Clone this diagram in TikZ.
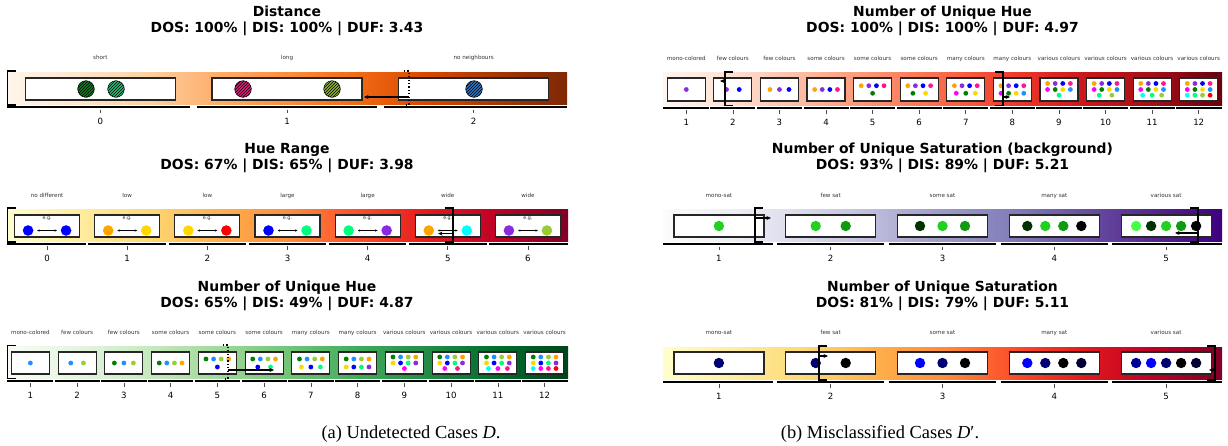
\documentclass[tikz,border=0pt]{standalone}
\usepackage{fontspec}
\setmainfont{DejaVu Sans}
\newfontfamily\capfont{Liberation Serif}
\usetikzlibrary{arrows.meta,patterns}

% ---- colour maps (9 stops each) ----
\definecolor{cmOra}{HTML}{FFF5EB}\definecolor{cmOrb}{HTML}{FEE6CE}\definecolor{cmOrc}{HTML}{FDD0A2}
\definecolor{cmOrd}{HTML}{FDAE6B}\definecolor{cmOre}{HTML}{FD8D3C}\definecolor{cmOrf}{HTML}{F16913}
\definecolor{cmOrg}{HTML}{D94801}\definecolor{cmOrh}{HTML}{A63603}\definecolor{cmOri}{HTML}{7F2704}
\definecolor{cmYRa}{HTML}{FFFFCC}\definecolor{cmYRb}{HTML}{FFEDA0}\definecolor{cmYRc}{HTML}{FED976}
\definecolor{cmYRd}{HTML}{FEB24C}\definecolor{cmYRe}{HTML}{FD8D3C}\definecolor{cmYRf}{HTML}{FC4E2A}
\definecolor{cmYRg}{HTML}{E31A1C}\definecolor{cmYRh}{HTML}{BD0026}\definecolor{cmYRi}{HTML}{800026}
\definecolor{cmGna}{HTML}{F7FCF5}\definecolor{cmGnb}{HTML}{E5F5E0}\definecolor{cmGnc}{HTML}{C7E9C0}
\definecolor{cmGnd}{HTML}{A1D99B}\definecolor{cmGne}{HTML}{74C476}\definecolor{cmGnf}{HTML}{41AB5D}
\definecolor{cmGng}{HTML}{238B45}\definecolor{cmGnh}{HTML}{006D2C}\definecolor{cmGni}{HTML}{00441B}
\definecolor{cmRda}{HTML}{FFF5F0}\definecolor{cmRdb}{HTML}{FEE0D2}\definecolor{cmRdc}{HTML}{FCBBA1}
\definecolor{cmRdd}{HTML}{FC9272}\definecolor{cmRde}{HTML}{FB6A4A}\definecolor{cmRdf}{HTML}{EF3B2C}
\definecolor{cmRdg}{HTML}{CB181D}\definecolor{cmRdh}{HTML}{A50F15}\definecolor{cmRdi}{HTML}{67000D}
\definecolor{cmPua}{HTML}{FCFBFD}\definecolor{cmPub}{HTML}{EFEDF5}\definecolor{cmPuc}{HTML}{DADAEB}
\definecolor{cmPud}{HTML}{BCBDDC}\definecolor{cmPue}{HTML}{9E9AC8}\definecolor{cmPuf}{HTML}{807DBA}
\definecolor{cmPug}{HTML}{6A51A3}\definecolor{cmPuh}{HTML}{54278F}\definecolor{cmPui}{HTML}{3F007D}
\newcommand\defcmap[1]{%
  \pgfdeclarehorizontalshading{#1}{100bp}{color(0bp)=(#1a); color(25bp)=(#1a);
    color(31.25bp)=(#1b); color(37.5bp)=(#1c); color(43.75bp)=(#1d); color(50bp)=(#1e);
    color(56.25bp)=(#1f); color(62.5bp)=(#1g); color(68.75bp)=(#1h); color(75bp)=(#1i);
    color(100bp)=(#1i)}}
\defcmap{cmOr}\defcmap{cmYR}\defcmap{cmGn}\defcmap{cmRd}\defcmap{cmPu}

% ---- marker colours ----
\definecolor{cBlue}{HTML}{0000FF}\definecolor{cOrange}{HTML}{FFA500}\definecolor{cGold}{HTML}{FFD700}
\definecolor{cRed}{HTML}{FF0000}\definecolor{cSpring}{HTML}{00FF7F}\definecolor{cViolet}{HTML}{8A2BE2}
\definecolor{cCyan}{HTML}{00FFFF}\definecolor{cYgreen}{HTML}{9ACD32}\definecolor{cGreen}{HTML}{008000}
\definecolor{cDodger}{HTML}{1E90FF}\definecolor{cMagenta}{HTML}{FF00FF}\definecolor{cPink}{HTML}{FF1493}
\definecolor{sLime}{HTML}{22D022}\definecolor{sMid}{HTML}{109A10}\definecolor{sDark}{HTML}{003300}
\definecolor{sBright}{HTML}{44FF44}\definecolor{nNavy}{HTML}{000070}\definecolor{nDeep}{HTML}{000099}
\definecolor{nDark}{HTML}{000033}
\definecolor{hGreenA}{HTML}{137A22}\definecolor{hGreenB}{HTML}{2DB878}\definecolor{hMag}{HTML}{D81C7A}
\definecolor{hOlive}{HTML}{8CB034}\definecolor{hBlue}{HTML}{2A76C4}

% axis under a strip: segments, ticks and numbers
\newcommand\catAxis[8]{% prefix, x0, cat width, n, first number, segment y, gap, number baseline
  \foreach \i in {1,...,#4}{%
    \pgfmathsetmacro\xa{#2+(\i-1)*#3+ifthenelse(\i>1,#7/2,0)}%
    \pgfmathsetmacro\xb{#2+\i*#3-ifthenelse(\i<#4,#7/2,0)}%
    \pgfmathsetmacro\xc{#2+(\i-0.5)*#3}%
    \pgfmathtruncatemacro\lab{\i-1+#5}%
    \draw[seg] (\xa,#6) -- (\xb,#6);
    \draw[tickmark] (\xc,#6+2.4) -- (\xc,#6+5.8);
    \node[ticklab] (#1\i) at (\xc,#8) {\lab};
  }}
% category names above a strip
\newcommand\catLabels[5]{% prefix, x0, cat width, baseline, names
  \foreach \t [count=\i] in {#5}{\node[catlab] (#1\i) at ({#2+(\i-0.5)*#3},#4) {\t};}}
% one row of evenly spread dots inside a card
\newcommand\drow[6]{% card, dy, count, card width, radius, colours
  \foreach \c [count=\k] in {#6}{%
    \fill[fill=\c] (#1.center) ++({(\k-(#3+1)/2)*#4/(#3+1)},#2) circle[radius=#5];}}
\newcommand\hrowA[4]{\drow{#1}{#2}{#3}{38}{2.4pt}{#4}}

\begin{document}
\begin{tikzpicture}[x=1pt,y=-1pt,
  ttl/.style={font=\bfseries\fontsize{13.9}{16}\selectfont, anchor=base, inner sep=0pt},
  catlab/.style={font=\fontsize{5.6}{6}\selectfont, text=black!80, anchor=base, inner sep=0pt},
  ticklab/.style={font=\fontsize{8.6}{10}\selectfont, anchor=base, inner sep=0pt},
  seg/.style={line width=1.8pt},
  tickmark/.style={line width=0.7pt, draw=black!70},
  card/.style={draw=black!85, line width=1.2pt, fill=white, inner sep=0pt},
  hatched/.style={circle, draw=black, line width=0.5pt, inner sep=0pt, minimum size=16.6pt,
    postaction={pattern=north east lines, pattern color=black}},
  spot/.style={circle, inner sep=0pt, minimum size=10.6pt},
  brk/.style={line width=1.6pt},
  dbrk/.style={line width=1.4pt, dash pattern=on 1.2pt off 2.2pt},
  pointer/.style={line width=1.3pt, -{Stealth[length=4.5pt,width=4pt]}},
  hueswap/.style={line width=0.7pt, {Stealth[length=2.4pt,width=2.2pt]}-{Stealth[length=2.4pt,width=2.2pt]},
    shorten <=3.6pt, shorten >=3.6pt},
  eg/.style={font=\fontsize{4.8}{5}\selectfont, anchor=base, inner sep=0pt, text=black!80},
  capt/.style={font=\capfont\fontsize{18.4}{20}\selectfont, anchor=base, inner sep=0pt}]
\useasboundingbox (0,0) rectangle (1228,445);

% ================= Distance =================
\node[ttl] (tA1) at (287,16) {Distance};
\node[ttl] (sA1) at (287,32.3) {DOS: 100\% | DIS: 100\% | DUF: 3.43};
\catLabels{lA1}{7}{186.67}{59.5}{short,long,no neighbours}
\shade[shading=cmOr] (7,72) rectangle (567,104);
\foreach \i in {1,2,3}{\node[card, minimum width=150pt, minimum height=22pt] (dc\i) at ({7+186.67*(\i-0.5)},89) {};}
\node[hatched, fill=hGreenA] (dp1) at (86,89) {};
\node[hatched, fill=hGreenB] (dp2) at (116,89) {};
\node[hatched, fill=hMag] (dp3) at (243,89) {};
\node[hatched, fill=hOlive] (dp4) at (332,89) {};
\node[hatched, fill=hBlue] (dp5) at (474,89) {};
\draw[brk] (16,71) -- (7.5,71) -- (7.5,105) -- (16,105);
\draw[dbrk] (404,71) -- (409,71) -- (409,105) -- (404,105);
\coordinate (pA1s) at (409,97); \coordinate (pA1e) at (364,97);
\draw[pointer] (pA1s) -- (pA1e);
\catAxis{nA1}{7}{186.67}{3}{0}{107.3}{7}{124.3}

% ================= Hue Range =================
\node[ttl] (tA2) at (287,153) {Hue Range};
\node[ttl] (sA2) at (287,169) {DOS: 67\% | DIS: 65\% | DUF: 3.98};
\catLabels{lA2}{7}{80.143}{197}{no different,low,low,large,large,wide,wide}
\shade[shading=cmYR] (7,209) rectangle (568,241);
\foreach \i/\ca/\cb in {1/cBlue/cBlue,2/cOrange/cGold,3/cGold/cRed,4/cBlue/cSpring,
    5/cSpring/cViolet,6/cOrange/cCyan,7/cViolet/cYgreen}{
  \pgfmathsetmacro\xc{7+80.143*(\i-0.5)}
  \node[card, minimum width=65pt, minimum height=22pt] (hr\i) at (\xc,226) {};
  \node[eg] (he\i) at (\xc,219.3) {e.g.};
  \node[spot, fill=\ca] (ha\i) at (\xc-19,230.5) {};
  \node[spot, fill=\cb] (hb\i) at (\xc+19,230.5) {};
  \draw[hueswap] (ha\i) -- (hb\i);
}
\draw[brk] (15.5,208) -- (7.5,208) -- (7.5,242) -- (15.5,242);
\draw[brk] (444.5,208) -- (453,208) -- (453,242) -- (444.5,242);
\coordinate (pA2s) at (453,233.6); \coordinate (pA2e) at (438,233.6);
\draw[pointer] (pA2s) -- (pA2e);
\catAxis{nA2}{7}{80.143}{7}{0}{244}{2.7}{261}

% ================= Number of Unique Hue (left) =================
\node[ttl] (tA3) at (287,291) {Number of Unique Hue};
\node[ttl] (sA3) at (287,307) {DOS: 65\% | DIS: 49\% | DUF: 4.87};
\catLabels{lA3}{7}{46.75}{334}{mono-colored,few colours,few colours,some colours,some colours,some colours,many colours,many colours,various colours,various colours,various colours,various colours}
\shade[shading=cmGn] (7,346) rectangle (568,378);
\foreach \i in {1,...,12}{\node[card, minimum width=38pt, minimum height=22pt] (ua\i) at ({7+46.75*(\i-0.5)},363) {};}
\hrowA{ua1}{0}{1}{cDodger}
\hrowA{ua2}{0}{2}{cDodger,cYgreen}
\hrowA{ua3}{0}{3}{cGreen,cDodger,cYgreen}
\hrowA{ua4}{0}{4}{cGreen,cDodger,cYgreen,cOrange}
\hrowA{ua5}{-4}{4}{cGreen,cDodger,cYgreen,cOrange}\hrowA{ua5}{4}{1}{cBlue}
\hrowA{ua6}{-4}{4}{cGreen,cDodger,cYgreen,cOrange}\hrowA{ua6}{4}{2}{cBlue,cSpring}
\hrowA{ua7}{-4}{4}{cGreen,cDodger,cYgreen,cOrange}\hrowA{ua7}{4}{3}{cGold,cBlue,cSpring}
\hrowA{ua8}{-4}{4}{cGreen,cDodger,cYgreen,cOrange}\hrowA{ua8}{4}{4}{cGold,cBlue,cSpring,cViolet}
\foreach \i in {9,...,12}{
  \hrowA{ua\i}{-6}{4}{cGreen,cDodger,cYgreen,cOrange}
  \hrowA{ua\i}{0}{4}{cGold,cBlue,cSpring,cViolet}}
\hrowA{ua9}{5.5}{1}{cMagenta}
\hrowA{ua10}{5.5}{2}{cMagenta,cPink}
\hrowA{ua11}{5.5}{3}{cCyan,cMagenta,cPink}
\hrowA{ua12}{5.5}{4}{cCyan,cMagenta,cPink,cRed}
\draw[brk] (16,345.5) -- (7.5,345.5) -- (7.5,378.5) -- (16,378.5);
\draw[dbrk] (223,345) -- (228,345) -- (228,379) -- (223,379);
\coordinate (pA3s) at (228,370); \coordinate (pA3e) at (274,370);
\draw[pointer] (pA3s) -- (pA3e);
\catAxis{nA3}{7}{46.75}{12}{1}{381}{1.5}{398.5}

% ================= Number of Unique Hue (right) =================
\node[ttl] (tB1) at (942.5,16) {Number of Unique Hue};
\node[ttl] (sB1) at (942.5,32.3) {DOS: 100\% | DIS: 100\% | DUF: 4.97};
\catLabels{lB1}{663}{46.583}{60}{mono-colored,few colours,few colours,some colours,some colours,some colours,many colours,many colours,various colours,various colours,various colours,various colours}
\shade[shading=cmRd] (663,72.5) rectangle (1222,105.5);
\foreach \i in {1,...,12}{\node[card, minimum width=38pt, minimum height=23pt] (ub\i) at ({663+46.583*(\i-0.5)},89.5) {};}
\hrowA{ub1}{0}{1}{cViolet}
\hrowA{ub2}{0}{2}{cViolet,cBlue}
\hrowA{ub3}{0}{3}{cOrange,cViolet,cBlue}
\hrowA{ub4}{0}{4}{cOrange,cViolet,cBlue,cPink}
\hrowA{ub5}{-3.8}{4}{cOrange,cViolet,cBlue,cPink}\hrowA{ub5}{3.8}{1}{cGreen}
\hrowA{ub6}{-3.8}{4}{cOrange,cViolet,cBlue,cPink}\hrowA{ub6}{3.8}{2}{cGreen,cGold}
\hrowA{ub7}{-3.8}{4}{cOrange,cViolet,cBlue,cPink}\hrowA{ub7}{3.8}{3}{cMagenta,cGreen,cGold}
\hrowA{ub8}{-3.8}{4}{cOrange,cViolet,cBlue,cPink}\hrowA{ub8}{3.8}{4}{cMagenta,cGreen,cGold,cDodger}
\foreach \i in {9,...,12}{
  \hrowA{ub\i}{-6}{4}{cOrange,cViolet,cBlue,cPink}
  \hrowA{ub\i}{0}{4}{cMagenta,cGreen,cGold,cDodger}}
\hrowA{ub9}{5.7}{1}{cSpring}
\hrowA{ub10}{5.7}{2}{cSpring,cYgreen}
\hrowA{ub11}{5.7}{3}{cCyan,cSpring,cYgreen}
\hrowA{ub12}{5.7}{4}{cCyan,cSpring,cYgreen,cRed}
\draw[brk] (733,72) -- (725,72) -- (725,105.5) -- (733,105.5);
\coordinate (pB1s) at (725,81); \coordinate (pB1e) at (720,81);
\draw[pointer] (pB1s) -- (pB1e);
\draw[brk] (995,72) -- (1003,72) -- (1003,105.5) -- (995,105.5);
\coordinate (pB1t) at (1003,97); \coordinate (pB1f) at (1010,97);
\draw[pointer] (pB1t) -- (pB1f);
\catAxis{nB1}{663}{46.583}{12}{1}{107.8}{1.5}{125}

% ================= Unique Saturation (background) =================
\node[ttl] (tB2) at (942.5,153) {Number of Unique Saturation (background)};
\node[ttl] (sB2) at (942.5,169) {DOS: 93\% | DIS: 89\% | DUF: 5.21};
\catLabels{lB2}{663}{111.8}{197}{mono-sat,few sat,some sat,many sat,various sat}
\shade[shading=cmPu] (663,209) rectangle (1222,241);
\foreach \i in {1,...,5}{\node[card, minimum width=90pt, minimum height=22pt] (sb\i) at ({663+111.8*(\i-0.5)},226) {};}
\drow{sb1}{0}{1}{90}{5.2pt}{sLime}
\drow{sb2}{0}{2}{90}{5.2pt}{sLime,sMid}
\drow{sb3}{0}{3}{90}{5.2pt}{sDark,sLime,sMid}
\drow{sb4}{0}{4}{90}{5.2pt}{sDark,sLime,sMid,black}
\drow{sb5}{0}{5}{90}{5.2pt}{sBright,sDark,sLime,sMid,black}
\draw[brk] (763,208) -- (755,208) -- (755,242) -- (763,242);
\coordinate (pB2s) at (755,218); \coordinate (pB2e) at (771,218);
\draw[pointer] (pB2s) -- (pB2e);
\draw[brk] (1190,208) -- (1198,208) -- (1198,242) -- (1190,242);
\coordinate (pB2t) at (1198,233); \coordinate (pB2f) at (1175,233);
\draw[pointer] (pB2t) -- (pB2f);
\catAxis{nB2}{663}{111.8}{5}{1}{244.3}{4.5}{261}

% ================= Unique Saturation =================
\node[ttl] (tB3) at (942.5,291) {Number of Unique Saturation};
\node[ttl] (sB3) at (942.5,307) {DOS: 81\% | DIS: 79\% | DUF: 5.11};
\catLabels{lB3}{663}{111.8}{334}{mono-sat,few sat,some sat,many sat,various sat}
\shade[shading=cmYR] (663,347) rectangle (1222,379);
\foreach \i in {1,...,5}{\node[card, minimum width=90pt, minimum height=22pt] (sc\i) at ({663+111.8*(\i-0.5)},363) {};}
\drow{sc1}{0}{1}{90}{5.2pt}{nNavy}
\drow{sc2}{0}{2}{90}{5.2pt}{nNavy,black}
\drow{sc3}{0}{3}{90}{5.2pt}{cBlue,nNavy,black}
\drow{sc4}{0}{4}{90}{5.2pt}{cBlue,nNavy,black,nDark}
\drow{sc5}{0}{5}{90}{5.2pt}{nDeep,cBlue,nNavy,black,nDark}
\draw[brk] (827,346) -- (819,346) -- (819,380) -- (827,380);
\coordinate (pB3s) at (819,356); \coordinate (pB3e) at (828,356);
\draw[pointer] (pB3s) -- (pB3e);
\draw[brk] (1207,346) -- (1215,346) -- (1215,380) -- (1207,380);
\coordinate (pB3t) at (1215,370); \coordinate (pB3f) at (1209,370);
\draw[pointer] (pB3t) -- (pB3f);
\catAxis{nB3}{663}{111.8}{5}{1}{382}{4.5}{399}

% ================= captions =================
\node[capt] (capA) at (411,438) {(a) Undetected Cases \textit{D}.};
\node[capt] (capB) at (880,438) {(b) Misclassified Cases \textit{D}′.};
\end{tikzpicture}
\end{document}
